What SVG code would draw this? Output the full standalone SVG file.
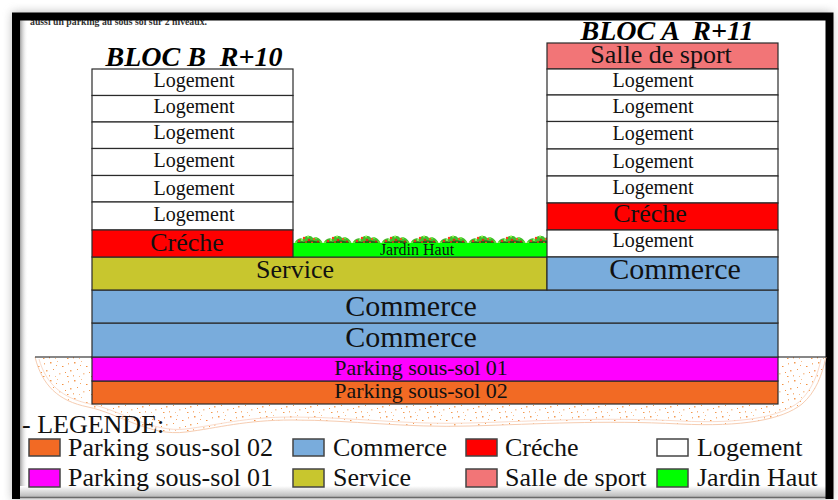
<svg xmlns="http://www.w3.org/2000/svg" width="838" height="500" viewBox="0 0 838 500">
  <style>
    .t { font-family: "Liberation Serif", "Times New Roman", serif; fill: #111; text-anchor: middle; }
    .lg { font-family: "Liberation Serif", "Times New Roman", serif; fill: #111; font-size: 26px; }
    .cell { stroke: #2a2a2a; stroke-width: 1.2; }
    .sw { stroke: #444; stroke-width: 1.5; }
    .title { font-family: "Liberation Serif", "Times New Roman", serif; font-weight: bold; font-style: italic; font-size: 28px; fill: #000; text-anchor: middle; white-space: pre; }
    .log { fill: #ffffff; }
    .cre { fill: #ff0000; }
    .com { fill: #79acdc; }
    .ser { fill: #c8c62e; }
    .spo { fill: #f27577; }
    .jar { fill: #00ff00; }
    .p01 { fill: #ff00ff; }
    .p02 { fill: #f26a24; }
  </style>
  <defs>
    <filter id="soft" x="-5%" y="-5%" width="110%" height="110%">
      <feGaussianBlur stdDeviation="5"/>
    </filter>
    <linearGradient id="bottomShade" x1="0" y1="0" x2="0" y2="1">
      <stop offset="0" stop-color="#ffffff"/>
      <stop offset="1" stop-color="#b8b8b8"/>
    </linearGradient>
    <linearGradient id="leftShade" x1="0" y1="0" x2="1" y2="0">
      <stop offset="0" stop-color="#a0a0a0"/>
      <stop offset="1" stop-color="#ffffff" stop-opacity="0"/>
    </linearGradient>
    <!-- speckled sand of the ground -->
    <pattern id="sand" width="24" height="18" patternUnits="userSpaceOnUse">
      <rect x="2" y="2" width="1.5" height="1.5" fill="#f39a52"/>
      <rect x="9" y="1" width="1" height="1" fill="#f8c090"/>
      <rect x="14" y="6" width="1.5" height="1" fill="#f29040"/>
      <rect x="20" y="3" width="1" height="1.5" fill="#f7b27a"/>
      <rect x="22" y="10" width="1.5" height="1.5" fill="#f4a868"/>
      <rect x="5" y="9" width="1" height="1" fill="#f29a50"/>
      <rect x="11" y="13" width="1.5" height="1.5" fill="#f8c8a0"/>
      <rect x="17" y="12" width="1" height="1" fill="#f39448"/>
      <rect x="1" y="15" width="1" height="1.5" fill="#f7b27a"/>
      <rect x="19" y="16" width="1.5" height="1" fill="#f29a50"/>
      <rect x="7" y="16" width="1" height="1" fill="#f8c090"/>
      <rect x="8" y="5" width="1" height="1" fill="#f5a866"/>
    </pattern>
    <!-- shrub clumps along the roof garden -->
    <pattern id="shrubs" x="294" y="233" width="29" height="11" patternUnits="userSpaceOnUse">
      <path d="M0,11 C2,6 6,4 9,6 C11,2 17,2 19,5 C22,3 27,5 29,11 Z" fill="#3fbf2a"/>
      <path d="M1,11 C4,8 8,8 10,9 C14,7 20,7 24,9 C26,9 28,10 29,11 Z" fill="#226615"/>
      <circle cx="5" cy="8" r="1.2" fill="#e83020"/>
      <circle cx="10" cy="5" r="1.2" fill="#ff3a1a"/>
      <circle cx="15" cy="7" r="1.3" fill="#d82818"/>
      <circle cx="20" cy="6" r="1.1" fill="#ff5020"/>
      <circle cx="24" cy="8.5" r="1.1" fill="#c02010"/>
      <circle cx="12" cy="9" r="1" fill="#e04018"/>
      <circle cx="18" cy="9.5" r="1" fill="#ff4020"/>
      <circle cx="14" cy="3.5" r="1" fill="#99ff55"/>
      <circle cx="8" cy="7" r="0.9" fill="#aaff66"/>
      <circle cx="22" cy="5" r="0.9" fill="#77ee44"/>
      <circle cx="27" cy="9" r="0.9" fill="#66dd33"/>
      <circle cx="2" cy="9.5" r="0.9" fill="#88ee44"/>
    </pattern>
  </defs>

  <!-- page frame -->
  <rect x="12" y="12" width="820" height="488" fill="#8a8a8a" opacity="0.55" filter="url(#soft)"/>
  <rect x="16" y="17" width="814" height="481" fill="#ffffff"/>
  <text x="30" y="25" font-family="Liberation Serif, serif" font-weight="bold" font-size="10" fill="#333" textLength="177" lengthAdjust="spacingAndGlyphs">aussi un parking au sous sol sur 2 niveaux.</text>
  <rect x="20" y="20" width="8" height="478" fill="url(#leftShade)"/>
  <rect x="20" y="486" width="806" height="11" fill="url(#bottomShade)"/>
  <line x1="16" y1="497.5" x2="830" y2="497.5" stroke="#6a6a6a" stroke-width="1.5"/>
  <path d="M16,499 V16.5 H829.5 V499" fill="none" stroke="#000" stroke-width="8"/>

  <!-- ground: sand below the natural level -->
  <g id="ground">
    <path d="M35,357 C42,385 58,401 88,407 C118,413 150,437 186,432 C218,428 245,420 292,420 C352,420 405,428 470,426 C540,424 602,420 680,424 C742,427 782,420 802,404 C816,392 822,375 826,357 Z" fill="url(#sand)"/>
    <path d="M35,357 C42,385 58,401 88,407 C118,413 150,437 186,432 C218,428 245,420 292,420 C352,420 405,428 470,426 C540,424 602,420 680,424 C742,427 782,420 802,404 C816,392 822,375 826,357" fill="none" stroke="#f6cdb2" stroke-width="1"/>
    <path d="M39,359 C46,384 62,398 90,404 C120,410 152,433 186,429 C218,425 245,417 292,417 C352,417 405,425 470,423 C540,421 602,417 680,421 C742,424 780,417 799,402 C812,390 818,374 821,359" fill="none" stroke="#fadccb" stroke-width="1"/>
    <line x1="35" y1="357" x2="826" y2="357" stroke="#111" stroke-width="1.2"/>
  </g>

  <!-- lower floors, full width -->
  <g id="parking-02">
    <rect class="cell p02" x="92" y="381" width="686" height="23"/>
    <text class="t" x="421" y="398" font-size="22">Parking sous-sol 02</text>
  </g>
  <g id="parking-01">
    <rect class="cell p01" x="92" y="357" width="686" height="24"/>
    <text class="t" x="421" y="375" font-size="22">Parking sous-sol 01</text>
  </g>
  <g id="commerce-rdc">
    <rect class="cell com" x="92" y="323" width="686" height="34"/>
    <text class="t" x="411" y="347" font-size="30">Commerce</text>
  </g>
  <g id="commerce-1">
    <rect class="cell com" x="92" y="290" width="686" height="33"/>
    <text class="t" x="411" y="316" font-size="30">Commerce</text>
  </g>
  <g id="service">
    <rect class="cell ser" x="92" y="257" width="455" height="33"/>
    <text class="t" x="295" y="278" font-size="26">Service</text>
  </g>

  <!-- roof garden between the two towers -->
  <g id="jardin-haut">
    <rect x="294" y="233" width="253" height="11" fill="url(#shrubs)"/>
    <rect class="jar" x="293" y="243" width="254" height="14"/>
    <line x1="293" y1="257" x2="547" y2="257" stroke="#2a2a2a" stroke-width="1.2"/>
    <text class="t" x="417" y="255" font-size="16">Jardin Haut</text>
  </g>

  <!-- tower B -->
  <g id="bloc-b">
    <text class="title" x="194" y="66" xml:space="preserve">BLOC B  R+10</text>
    <rect class="cell log" x="92" y="69" width="201" height="26.5"/>
    <text class="t" x="194" y="87" font-size="20">Logement</text>
    <rect class="cell log" x="92" y="95.5" width="201" height="26.5"/>
    <text class="t" x="194" y="113" font-size="20">Logement</text>
    <rect class="cell log" x="92" y="122" width="201" height="26.5"/>
    <text class="t" x="194" y="139" font-size="20">Logement</text>
    <rect class="cell log" x="92" y="148.5" width="201" height="27"/>
    <text class="t" x="194" y="167" font-size="20">Logement</text>
    <rect class="cell log" x="92" y="175.5" width="201" height="26.5"/>
    <text class="t" x="194" y="195" font-size="20">Logement</text>
    <rect class="cell log" x="92" y="202" width="201" height="28"/>
    <text class="t" x="194" y="221" font-size="20">Logement</text>
    <rect class="cell cre" x="92" y="230" width="201" height="27"/>
    <text class="t" x="187" y="251" font-size="26">Créche</text>
  </g>

  <!-- tower A -->
  <g id="bloc-a">
    <text class="title" x="667" y="40" xml:space="preserve">BLOC A  R+11</text>
    <rect class="cell spo" x="547" y="43" width="231" height="26"/>
    <text class="t" x="661" y="63" font-size="26">Salle de sport</text>
    <rect class="cell log" x="547" y="69" width="231" height="26"/>
    <text class="t" x="653" y="87" font-size="20">Logement</text>
    <rect class="cell log" x="547" y="95" width="231" height="26.5"/>
    <text class="t" x="653" y="113" font-size="20">Logement</text>
    <rect class="cell log" x="547" y="121.5" width="231" height="27.5"/>
    <text class="t" x="653" y="140" font-size="20">Logement</text>
    <rect class="cell log" x="547" y="149" width="231" height="27"/>
    <text class="t" x="653" y="168" font-size="20">Logement</text>
    <rect class="cell log" x="547" y="176" width="231" height="27"/>
    <text class="t" x="653" y="194" font-size="20">Logement</text>
    <rect class="cell cre" x="547" y="203" width="231" height="27"/>
    <text class="t" x="650" y="222" font-size="26">Créche</text>
    <rect class="cell log" x="547" y="230" width="231" height="27"/>
    <text class="t" x="653" y="247" font-size="20">Logement</text>
    <rect class="cell com" x="547" y="257" width="231" height="33"/>
    <text class="t" x="675" y="279" font-size="30">Commerce</text>
  </g>

  <!-- key -->
  <g id="legende">
    <text class="lg" x="22" y="433">- LEGENDE:</text>
    <g id="leg-parking-02"><rect class="sw p02" x="29" y="439" width="31" height="17"/><text class="lg" x="68" y="456">Parking sous-sol 02</text></g>
    <g id="leg-parking-01"><rect class="sw p01" x="29" y="469" width="31" height="18"/><text class="lg" x="68" y="486">Parking sous-sol 01</text></g>
    <g id="leg-commerce"><rect class="sw com" x="293" y="439" width="31" height="17"/><text class="lg" x="333" y="456">Commerce</text></g>
    <g id="leg-service"><rect class="sw ser" x="293" y="469" width="31" height="18"/><text class="lg" x="333" y="486">Service</text></g>
    <g id="leg-creche"><rect class="sw cre" x="466" y="439" width="31" height="17"/><text class="lg" x="505" y="456">Créche</text></g>
    <g id="leg-sport"><rect class="sw spo" x="466" y="469" width="31" height="18"/><text class="lg" x="505" y="486">Salle de sport</text></g>
    <g id="leg-logement"><rect class="sw log" x="657" y="439" width="31" height="17"/><text class="lg" x="697" y="456">Logement</text></g>
    <g id="leg-jardin"><rect class="sw jar" x="657" y="469" width="31" height="18"/><text class="lg" x="697" y="486">Jardin Haut</text></g>
  </g>
</svg>
